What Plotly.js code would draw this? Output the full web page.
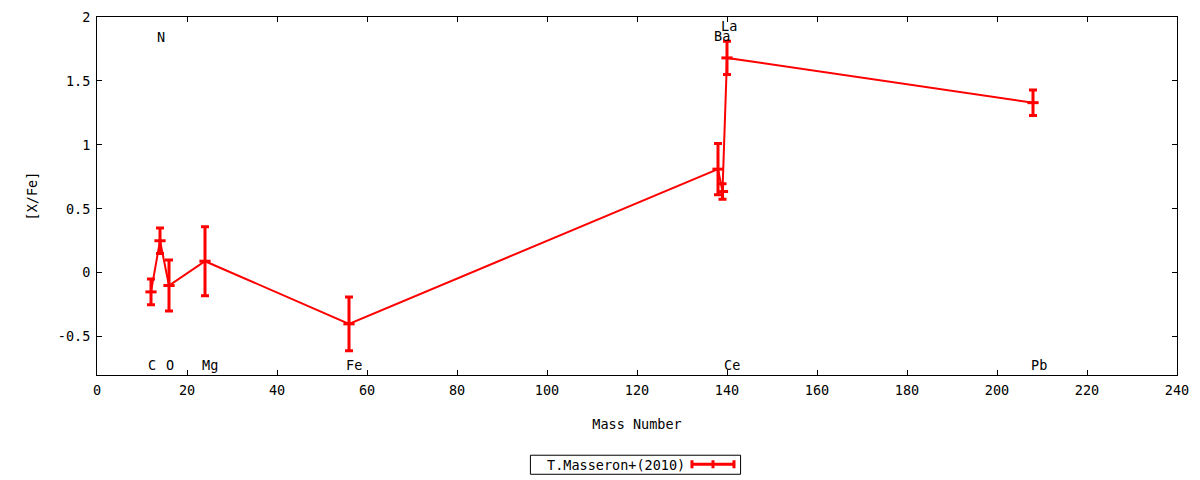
<!DOCTYPE html>
<html>
<head>
<meta charset="utf-8">
<script src="https://cdn.plot.ly/plotly-3.0.1.min.js"></script>
<style>html,body{margin:0;padding:0;background:#fff}#chart{width:1200px;height:480px}</style>
</head>
<body>
<div id="chart"></div>
<script>
// Data
const elements = ["C", "N", "O", "Mg", "Fe", "Ba", "La", "Ce", "Pb"];
const massNumber = [12, 14, 16, 24, 56, 138, 139, 140, 208];
const xFe = [-0.15, 0.25, -0.10, 0.09, -0.40, 0.81, 0.635, 1.68, 1.33];
const xFeErr = [0.10, 0.10, 0.20, 0.27, 0.21, 0.20, 0.06, 0.13, 0.10];
const seriesName = "T.Masseron+(2010)";

// Element label placement (mass, [X/Fe] level)
const labelNames = ["C", "N", "O", "Mg", "Fe", "Ba", "La", "Ce", "Pb"];
const labelX = [11.3, 13.3, 15.3, 23.3, 55.3, 137.1, 138.7, 139.3, 207.6];
const labelY = [-0.72, 1.84, -0.72, -0.72, -0.72, 1.85, 1.93, -0.72, -0.72];

const xTicks = [0, 20, 40, 60, 80, 100, 120, 140, 160, 180, 200, 220, 240];
const yTicks = [-0.5, 0, 0.5, 1, 1.5, 2];

const FONT = "DejaVu Sans Mono, Liberation Mono, monospace";
const FS = 13.5;
const RED = "#ff0000";

const trace = {
  type: "scatter",
  mode: "lines+markers",
  name: seriesName,
  x: massNumber,
  y: xFe,
  text: elements,
  line: {color: RED, width: 2},
  marker: {symbol: "line-ew", size: 8, color: RED, line: {color: RED, width: 3}},
  error_y: {type: "data", array: xFeErr, visible: true, color: RED, thickness: 3, width: 4},
  showlegend: false
};

const annotations = labelNames.map((t, i) => ({
  x: labelX[i], y: labelY[i], xref: "x", yref: "y",
  text: t, showarrow: false, xanchor: "left", yanchor: "middle", xshift: -2,
  font: {family: FONT, size: FS, color: "#000"}
}));

// custom gnuplot-style key: text then sample
annotations.push({
  xref: "paper", yref: "paper", x: 0.4150, y: -0.2507,
  xanchor: "left", yanchor: "middle",
  text: seriesName, showarrow: false,
  font: {family: FONT, size: FS, color: "#000"}
});

const ly = -0.2493, lx0 = 0.5509, lx1 = 0.5898, lxm = (lx0 + lx1) / 2, th = 0.0112;
const shapes = [
  {type: "rect", xref: "paper", yref: "paper", x0: 0.4013, x1: 0.5959, y0: -0.2773, y1: -0.2241, line: {color: "#000", width: 1}},
  {type: "line", xref: "paper", yref: "paper", x0: lx0, x1: lx1, y0: ly, y1: ly, line: {color: RED, width: 3}},
  {type: "line", xref: "paper", yref: "paper", x0: lx0, x1: lx0, y0: ly - th, y1: ly + th, line: {color: RED, width: 3}},
  {type: "line", xref: "paper", yref: "paper", x0: lxm, x1: lxm, y0: ly - th, y1: ly + th, line: {color: RED, width: 3}},
  {type: "line", xref: "paper", yref: "paper", x0: lx1, x1: lx1, y0: ly - th, y1: ly + th, line: {color: RED, width: 3}}
];

const axisCommon = {
  showline: true, linecolor: "#000", linewidth: 1, mirror: "ticks",
  ticks: "inside", ticklen: 5, tickcolor: "#000", tickwidth: 1,
  showgrid: false, zeroline: false,
  tickfont: {family: FONT, size: FS, color: "#000"}
};

const layout = {
  width: 1200, height: 480,
  margin: {l: 97, r: 23, t: 17, b: 105},
  paper_bgcolor: "#fff", plot_bgcolor: "#fff",
  font: {family: FONT, size: FS, color: "#000"},
  xaxis: Object.assign({}, axisCommon, {
    range: [0, 240], tickvals: xTicks, ticktext: xTicks.map(String),
    ticklabelstandoff: 3,
    title: {text: "Mass Number", font: {family: FONT, size: FS}, standoff: 22}
  }),
  yaxis: Object.assign({}, axisCommon, {
    range: [-0.8, 2], tickvals: yTicks, ticktext: yTicks.map(String),
    ticklabelstandoff: 3,
    title: {text: "[X/Fe]", font: {family: FONT, size: FS}, standoff: 17}
  }),
  annotations: annotations,
  shapes: shapes,
  showlegend: false
};

Plotly.newPlot("chart", [trace], layout, {displayModeBar: false, staticPlot: true});
</script>
</body>
</html>
